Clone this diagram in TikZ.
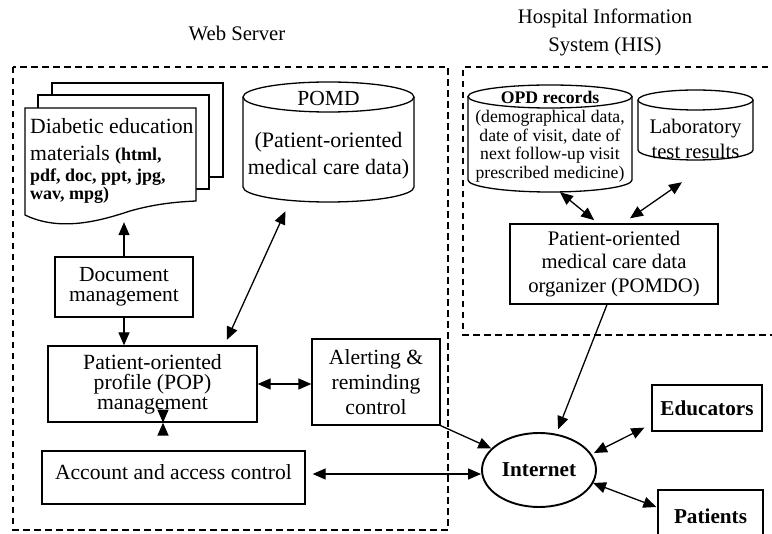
\documentclass[tikz,border=0pt]{standalone}
\usepackage{fontspec}
\setmainfont{Liberation Serif}
\usetikzlibrary{arrows.meta,shapes.geometric,calc}

% font sizes: size and baseline skip
\newcommand\txtsize[2]{\fontsize{#1}{#2}\selectfont}

\tikzset{
  box/.style={draw, line width=1.3pt, inner sep=0pt, align=center},
  area/.style={inner sep=0pt},
  frame/.style={draw, line width=1.3pt, dash pattern=on 6.5pt off 4.5pt},
  outline/.style={line width=1.3pt},
  tip/.tip={Triangle[length=13pt,width=11pt]},
  biarrow/.style={{tip}-{tip}, line width=1.3pt},
  onearrow/.style={-{tip}, line width=1.3pt},
}

\begin{document}
\begin{tikzpicture}[x=1pt,y=-1pt]
\clip (0,0) rectangle (772,534);

% titles
\node[font=\txtsize{20.7}{23}] (wstitle) at (237,33) {Web Server};
\node[font=\txtsize{20.7}{28}, align=center] (histitle) at (605,32) {Hospital Information\\System (HIS)};

% dashed system frames
\draw[frame] (13,67) rectangle (448,530);
\draw[frame] (790,67) -- (463,67) -- (463,335) -- (790,335);

% stack of education material documents
\draw[outline, fill=white] (52,83) rectangle (223,177);
\draw[outline, fill=white] (38,95) rectangle (209,189);
\draw[outline, fill=white] (25,108) -- (196,108) -- (196,201)
  .. controls (175,202) and (155,204) .. (130,211)
  .. controls (100,221) and (60,232) .. (25,215) -- cycle;
\node[area, minimum width=171pt, minimum height=114pt] (docs) at (110.5,165) {};
\node[anchor=base west, inner sep=0pt, font=\txtsize{21.7}{26}] (docA) at (30,134) {Diabetic education};
\node[anchor=base west, inner sep=0pt, font=\txtsize{21.7}{26}] (docB) at (30,161) {materials {\txtsize{18}{20}\bfseries(html,}};
\node[anchor=base west, inner sep=0pt, font=\txtsize{18}{20}\bfseries] (docC) at (30,182) {pdf, doc, ppt, jpg,};
\node[anchor=base west, inner sep=0pt, font=\txtsize{18}{20}\bfseries] (docD) at (30,200) {wav, mpg)};

% POMD database
\draw[outline] (243,97) -- (243,187) arc[start angle=180, end angle=0, x radius=85.5, y radius=15] -- (414,97);
\draw[outline] (328.5,97) ellipse[x radius=85.5, y radius=15];
\node[area, minimum width=171pt, minimum height=120pt] (pomd) at (328.5,142) {};
\node[font=\txtsize{21.5}{27}] (pomdtitle) at (328.5,98) {POMD};
\node[font=\txtsize{22}{27}, align=center] (pomdtext) at (328.5,156) {(Patient-oriented\\medical care data)};

% OPD records database
\draw[outline] (468,96.5) -- (468,180) arc[start angle=180, end angle=0, x radius=82, y radius=12] -- (632,96.5);
\draw[outline] (550,96.5) ellipse[x radius=82, y radius=11.5];
\node[area, minimum width=164pt, minimum height=107pt] (opd) at (550,138.5) {};
\node[font=\txtsize{17.7}{18.7}, align=center] (opdtext) at (550,137)
  {\textbf{OPD records}\\(demographical data,\\date of visit, date of\\next follow-up visit\\prescribed medicine)};

% laboratory database
\draw[outline] (638,100) -- (638,150) arc[start angle=180, end angle=0, x radius=57.5, y radius=10] -- (753,100);
\draw[outline] (695.5,100) ellipse[x radius=57.5, y radius=10];
\node[area, minimum width=115pt, minimum height=70pt] (lab) at (695.5,125) {};
\node[font=\txtsize{20.7}{25}, align=center] (labtext) at (695.5,139) {Laboratory\\test results};

% processing boxes
\node[box, minimum width=138pt, minimum height=60pt, font=\txtsize{21.5}{20}] (doc) at (124,287) {Document\\management};
\node[box, minimum width=209pt, minimum height=76pt, font=\txtsize{21.7}{20}] (pop) at (152.5,384) {Patient-oriented\\profile (POP)\\management};
\node[box, minimum width=128pt, minimum height=86pt, font=\txtsize{21.6}{25}] (alert) at (376,382) {Alerting \&\\reminding\\control};
\node[box, minimum width=263pt, minimum height=53pt] (account) at (173.5,477.5) {};
\node[font=\txtsize{21.6}{23}] (accounttext) at (173.5,472) {Account and access control};
\node[box, minimum width=208pt, minimum height=80pt, font=\txtsize{20.7}{23.5}] (pomdo) at (614,264) {Patient-oriented\\medical care data\\organizer (POMDO)};

% internet and users
\node[draw, ellipse, line width=1.9pt, minimum width=114pt, minimum height=74pt, inner sep=0pt, font=\txtsize{21.2}{23}\bfseries] (internet) at (539,470) {Internet};
\node[box, minimum width=110pt, minimum height=46pt, font=\txtsize{21.2}{23}\bfseries] (educators) at (707,408) {Educators};
\node[box, minimum width=105pt, minimum height=52pt, font=\txtsize{21.2}{23}\bfseries] (patients) at (710.5,516) {Patients};

% connectors inside the web server
\draw[onearrow] (doc.north) -- (doc.north |- docs.south);
\draw[onearrow] (doc.south) -- (doc.south |- pop.north);
\draw[biarrow, shorten <=10pt, shorten >=6pt] ($(pomd.south)+(-39,0)$) -- ($(pop.north)+(71.8,0)$);
\draw[biarrow] (pop.east) -- (pop.east -| alert.west);
\draw[biarrow] ($(pop.south)+(10.5,0)$) -- ($(pop.south)+(10.5,0)$ |- account.north);

% connectors inside the hospital information system
\draw[biarrow, shorten >=5pt] ($(opd.south)+(10,0)$) -- ($(pomdo.north)+(-16,0)$);
\draw[biarrow] ($(lab.south)+(-13.5,22)$) -- ($(pomdo.north)+(16,-5)$);

% connectors to the internet
\draw[onearrow, shorten >=3pt] ($(pomdo.south)+(-7,0)$) -- ($(internet.north)+(18,0)$);
\draw[onearrow] (alert.south east) -- (internet);
\draw[biarrow] ($(account.east)+(7,-3.5)$) -- ($(internet.west)+(0,4)$);
\draw[biarrow] ($(internet)+(55,-17)$) -- ($(educators.south west)+(-7,-4)$);
\draw[biarrow] ($(internet)+(54,13)$) -- ($(patients.west)+(-1,-9)$);
\end{tikzpicture}
\end{document}
